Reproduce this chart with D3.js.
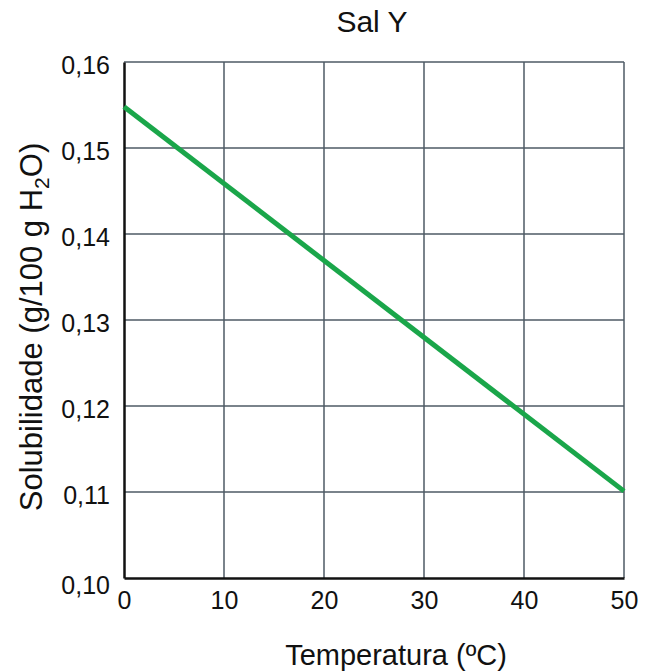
<!DOCTYPE html>
<html lang="pt">
<head>
  <meta charset="UTF-8">
  <title>Sal Y</title>
  <script src="https://d3js.org/d3.v7.min.js"></script>
  <style>
    body { margin: 0; background: #fff; font-family: "Liberation Sans", Arial, sans-serif; }
  </style>
</head>
<body>
  <div id="chart"></div>
  <script>
    // dados
    const temperatura = [0, 50];
    const solubilidade = [0.1548, 0.1101];
    const xTicks = [0, 10, 20, 30, 40, 50];
    const yTicks = [0.10, 0.11, 0.12, 0.13, 0.14, 0.15, 0.16];

    const W = 656, H = 672;
    const margin = {top: 62, right: 32, bottom: 94, left: 124};
    const width = W - margin.left - margin.right,
          height = H - margin.top - margin.bottom;

    const svg = d3.select("#chart").append("svg")
      .attr("width", W).attr("height", H);
    const g = svg.append("g")
      .attr("transform", `translate(${margin.left},${margin.top})`);

    const x = d3.scaleLinear().domain([0, 50]).range([0, width]);
    const y = d3.scaleLinear().domain([0.10, 0.16]).range([height, 0]);
    const fmt = d => d3.format(".2f")(d).replace(".", ",");

    // grade
    g.selectAll(".vgrid").data(xTicks.slice(1)).enter().append("line")
      .attr("x1", d => x(d)).attr("x2", d => x(d))
      .attr("y1", 0).attr("y2", height)
      .attr("stroke", "#4e5a64").attr("stroke-width", 1.5);
    g.selectAll(".hgrid").data(yTicks.slice(1)).enter().append("line")
      .attr("x1", 0).attr("x2", width)
      .attr("y1", d => y(d)).attr("y2", d => y(d))
      .attr("stroke", "#4e5a64").attr("stroke-width", 1.5);

    // eixos
    const xAxis = g.append("g").attr("transform", `translate(0,${height})`)
      .call(d3.axisBottom(x).tickValues(xTicks).tickSize(0).tickPadding(13));
    const yAxis = g.append("g")
      .call(d3.axisLeft(y).tickValues(yTicks).tickFormat(fmt).tickSize(0).tickPadding(14));
    [xAxis, yAxis].forEach(a => {
      a.select(".domain").attr("stroke", "#111").attr("stroke-width", 2.5);
      a.selectAll("text").attr("font-size", 25).attr("fill", "#111")
        .attr("font-family", "'Liberation Sans', Arial, sans-serif");
    });
    xAxis.selectAll("text").attr("dy", "0.71em");
    yAxis.selectAll("text").attr("dy", d => d === 0.10 ? "0.62em" : "0.45em");

    // linha
    const pts = temperatura.map((t, i) => [t, solubilidade[i]]);
    g.append("path").datum(pts)
      .attr("fill", "none").attr("stroke", "#1aa64a").attr("stroke-width", 5)
      .attr("d", d3.line().x(d => x(d[0])).y(d => y(d[1])));

    // títulos
    svg.append("text").attr("x", 372).attr("y", 32)
      .attr("text-anchor", "middle").attr("font-size", 30).attr("fill", "#111")
      .text("Sal Y");
    svg.append("text").attr("x", 396).attr("y", 665)
      .attr("text-anchor", "middle").attr("font-size", 29).attr("fill", "#111")
      .text("Temperatura (ºC)");
    const yl = svg.append("text")
      .attr("transform", "translate(42,327) rotate(-90)")
      .attr("text-anchor", "middle").attr("font-size", 31).attr("fill", "#111");
    yl.append("tspan").text("Solubilidade (g/100 g H");
    yl.append("tspan").attr("font-size", 21).attr("dy", 7).text("2");
    yl.append("tspan").attr("dy", -7).text("O)");
  </script>
</body>
</html>
